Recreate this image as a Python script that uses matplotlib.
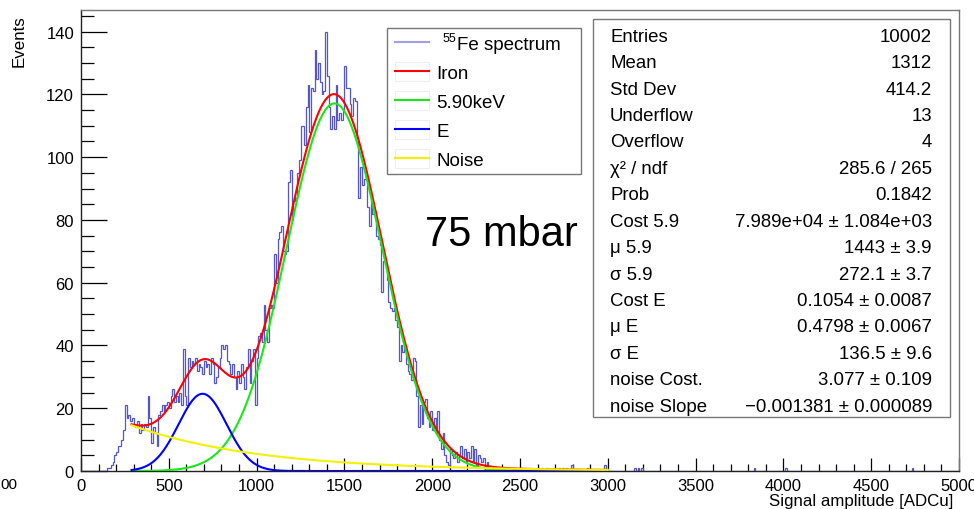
import numpy as np
import matplotlib
matplotlib.use("Agg")
import matplotlib.pyplot as plt
from matplotlib.patches import Rectangle
from matplotlib.lines import Line2D
from matplotlib.ticker import MultipleLocator

plt.rcParams['font.family'] = ['Liberation Sans', 'DejaVu Sans']

# ---------------- data ----------------
bin_width = 10
x_range = (0, 5000)
first_bin = 150          # lower edge of the first bin in counts_main
counts_main = [
    1, 1, 2, 3, 5, 6, 8, 8, 10, 13,              # 150-240
    21, 17, 18, 16, 17, 15, 14, 16, 12, 15,      # 250-340
    13, 15, 14, 24, 17, 9, 14, 12, 8, 18,        # 350-440
    19, 21, 19, 21, 22, 20, 24, 26, 22, 24,      # 450-540
    22, 25, 21, 39, 24, 21, 36, 33, 35, 34,      # 550-640
    36, 32, 34, 33, 31, 35, 33, 34, 31, 36,      # 650-740
    34, 28, 30, 33, 36, 40, 39, 40, 35, 34,      # 750-840
    31, 34, 30, 26, 32, 28, 34, 30, 26, 33,      # 850-940
    39, 28, 35, 39, 21, 36, 43, 44, 41, 53,      # 950-1040
    45, 41, 52, 53, 52, 69, 60, 74, 76, 78,      # 1050-1140
    70, 69, 70, 92, 96, 80, 86, 87, 95, 99,      # 1150-1240
    110, 110, 104, 116, 123, 108, 122, 121, 134, 125,  # 1250-1340
    130, 124, 120, 121, 140, 126, 116, 109, 113, 109,  # 1350-1440
    123, 112, 114, 112, 115, 129, 122, 122, 117, 113,  # 1450-1540
    119, 118, 106, 87, 97, 91, 93, 93, 84, 78,   # 1550-1640
    86, 82, 83, 75, 74, 72, 57, 67, 66, 61,      # 1650-1740
    54, 52, 51, 52, 48, 46, 35, 40, 38, 40,      # 1750-1840
    34, 32, 31, 29, 36, 35, 24, 14, 21, 15,      # 1850-1940
    22, 23, 17, 14, 19, 13, 17, 12, 19, 10,      # 1950-2040
    7, 12, 5, 3, 2, 7, 5, 4, 6, 3,               # 2050-2140
    5, 8, 4, 7, 3, 6, 4, 8, 3, 7,                # 2150-2240
    2, 5, 4, 3, 4, 1, 3, 0, 1, 0,                # 2250-2340
]
tail_bins = [2400, 2460, 2500, 2600, 2620, 2650, 2720, 2740, 2760, 2790,
             2880, 2980, 3150, 3170, 3190, 3830, 4010, 4730]
tail_counts = [1, 1, 1, 1, 1, 1, 1, 1, 1, 2, 1, 2, 1, 1, 1, 1, 1, 1]

# fit parameters (from the stats box)
fit_range = (288, 3000)
cost_59, mu_59, sigma_59 = 7.989e4, 1443.0, 272.1
cost_E, mu_E, sigma_E = 0.1054, 0.4798, 136.5
noise_cost, noise_slope = 3.077, -0.001381

legend_labels = ["Fe spectrum", "Iron", "5.90keV", "E", "Noise"]
stat_labels = ["Entries", "Mean", "Std Dev", "Underflow", "Overflow",
               "\u03c7\u00b2 / ndf", "Prob", "Cost 5.9", "\u03bc 5.9",
               "\u03c3 5.9", "Cost E", "\u03bc E", "\u03c3 E",
               "noise Cost.", "noise Slope"]
stat_values = ["10002", "1312", "414.2", "13", "4", "285.6 / 265", "0.1842",
               "7.989e+04 \u00b1 1.084e+03", "1443 \u00b1 3.9", "272.1 \u00b1 3.7",
               "0.1054 \u00b1 0.0087", "0.4798 \u00b1 0.0067", "136.5 \u00b1 9.6",
               "3.077 \u00b1 0.109", "\u22120.001381 \u00b1 0.000089"]

# ---------------- figure ----------------
W, H = 974, 510
fig = plt.figure(figsize=(W / 100, H / 100), dpi=100)


def fx(px):
    return px / W


def fy(py):
    return 1 - py / H


ax = fig.add_axes([fx(81), fy(472), fx(959) - fx(81), fy(11) - fy(472)])

edges = np.arange(x_range[0], x_range[1] + bin_width, bin_width)
counts = np.zeros(len(edges) - 1)
i0 = first_bin // bin_width
counts[i0:i0 + len(counts_main)] = counts_main
for b, c in zip(tail_bins, tail_counts):
    counts[b // bin_width] = c

hist_color = '#5656cc'
ax.stairs(counts, edges, color=hist_color, lw=0.9, zorder=2)

xf = np.linspace(fit_range[0], fit_range[1], 1500)
g59 = cost_59 / (np.sqrt(2 * np.pi) * sigma_59) * np.exp(-(xf - mu_59) ** 2 / (2 * sigma_59 ** 2))
gE = cost_E * cost_59 / (np.sqrt(2 * np.pi) * sigma_E) * np.exp(-(xf - mu_E * mu_59) ** 2 / (2 * sigma_E ** 2))
noise = np.exp(noise_cost + noise_slope * xf)
iron = g59 + gE + noise

c_red, c_green, c_blue, c_yellow = '#ff0000', '#18e818', '#0000ff', '#f2f200'
ax.plot(xf, iron, color=c_red, lw=1.5, zorder=3)
ax.plot(xf, g59, color=c_green, lw=1.5, zorder=4)
ax.plot(xf, gE, color=c_blue, lw=1.5, zorder=5)
ax.plot(xf, noise, color=c_yellow, lw=1.5, zorder=6)

ax.set_xlim(*x_range)
ax.set_ylim(0, 146.9)
ax.xaxis.set_major_locator(MultipleLocator(500))
ax.xaxis.set_minor_locator(MultipleLocator(100))
ax.yaxis.set_major_locator(MultipleLocator(20))
ax.yaxis.set_minor_locator(MultipleLocator(5))
ax.tick_params(axis='both', which='both', direction='in', top=False, right=False,
               color='black', width=0.9)
ax.tick_params(axis='y', which='major', length=18.7, labelsize=12, pad=5)
ax.tick_params(axis='y', which='minor', length=9.4)
ax.tick_params(axis='x', which='major', length=9.4, labelsize=12, pad=5)
ax.tick_params(axis='x', which='minor', length=4.7)
for s in ['top', 'right']:
    ax.spines[s].set_color('#777777')
for s in ['left', 'bottom']:
    ax.spines[s].set_color('#222222')
for s in ax.spines.values():
    s.set_linewidth(1.0)

fig.text(fx(19), fy(15), 'Events', rotation=90, ha='center', va='top', fontsize=12.2)
fig.text(fx(953), fy(506), 'Signal amplitude [ADCu]', ha='right', va='baseline', fontsize=12.2)
fig.text(fx(0), fy(489), '00', ha='left', va='baseline', fontsize=11)

# ---------------- legend ----------------
fig.add_artist(Rectangle((fx(387), fy(175)), fx(581) - fx(387), fy(29) - fy(175),
                         transform=fig.transFigure, facecolor='white',
                         edgecolor='#777777', lw=1.0, zorder=10))
leg_colors = ['#a0a0e2', c_red, c_green, c_blue, c_yellow]
row_y = [43.3, 72.3, 101.0, 130.0, 159.3]
for k, (lab, col, yy) in enumerate(zip(legend_labels, leg_colors, row_y)):
    if k > 0:
        fig.add_artist(Rectangle((fx(395), fy(yy + 9.5)), fx(429) - fx(395), fy(yy - 9.5) - fy(yy + 9.5),
                                 transform=fig.transFigure, facecolor='none',
                                 edgecolor='#eeeeee', lw=0.8, zorder=11))
    fig.add_artist(Line2D([fx(395), fx(429)], [fy(yy), fy(yy)], transform=fig.transFigure,
                          color=col, lw=1.5, zorder=12))
    if k == 0:
        fig.text(fx(443), fy(yy - 1.5), '55', ha='left', va='baseline', fontsize=9, zorder=12)
        fig.text(fx(457), fy(yy + 6.7), lab, ha='left', va='baseline', fontsize=13.5, zorder=12)
    else:
        fig.text(fx(436), fy(yy + 6.7), lab, ha='left', va='baseline', fontsize=13.5, zorder=12)

# ---------------- stats box ----------------
fig.add_artist(Rectangle((fx(593), fy(418)), fx(950) - fx(593), fy(20) - fy(418),
                         transform=fig.transFigure, facecolor='white',
                         edgecolor='#777777', lw=1.0, zorder=10))
for i, (lab, val) in enumerate(zip(stat_labels, stat_values)):
    yb = 41.7 + 26.43 * i
    fig.text(fx(610), fy(yb), lab, ha='left', va='baseline', fontsize=13.4, zorder=12)
    fig.text(fx(932), fy(yb), val, ha='right', va='baseline', fontsize=13.4, zorder=12)

fig.text(fx(425), fy(246), '75 mbar', ha='left', va='baseline', fontsize=30, zorder=12)

fig.savefig('out.png', dpi=100)
